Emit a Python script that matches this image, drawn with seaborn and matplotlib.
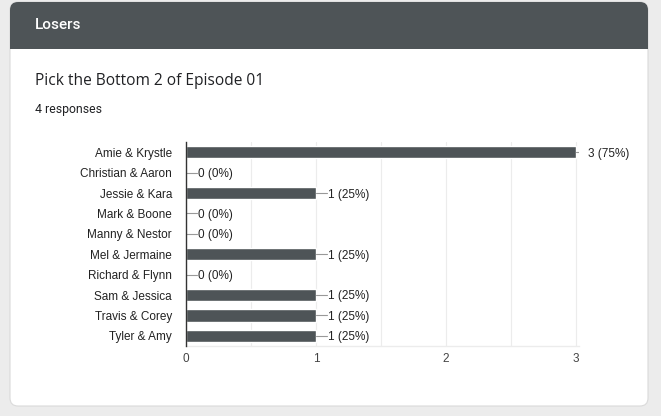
import matplotlib
matplotlib.use("Agg")
import matplotlib.pyplot as plt
import seaborn as sns
import pandas as pd
from matplotlib.patches import FancyBboxPatch, Rectangle
from matplotlib.transforms import IdentityTransform

pairs = ["Amie & Krystle", "Christian & Aaron", "Jessie & Kara", "Mark & Boone",
         "Manny & Nestor", "Mel & Jermaine", "Richard & Flynn", "Sam & Jessica",
         "Travis & Corey", "Tyler & Amy"]
votes = [3, 0, 1, 0, 0, 1, 0, 1, 1, 1]
total_responses = 4

df = pd.DataFrame({"pair": pairs, "votes": votes})

sns.set_theme(style="white")
plt.rcParams["font.family"] = ["Liberation Sans", "DejaVu Sans"]

W, H = 661, 416
fig = plt.figure(figsize=(W / 100, H / 100), dpi=100, facecolor="#ececec")

px = IdentityTransform()
# card + header (pixel coords, origin bottom-left)
dark = "#4e5457"
card = FancyBboxPatch((10, 10), 638, 404, boxstyle="round,pad=0,rounding_size=8",
                      transform=px, facecolor="white", edgecolor="#dadada", lw=0.8, zorder=-10)
header = FancyBboxPatch((10, 367), 638, 47, boxstyle="round,pad=0,rounding_size=8",
                        transform=px, facecolor=dark, edgecolor="none", zorder=-9)
header_sq = Rectangle((10, 367), 638, 12, transform=px, facecolor=dark,
                      edgecolor="none", zorder=-9)
for p in (card, header, header_sq):
    fig.patches.append(p)

fig.text(35, H - 25, "Losers", transform=px, color="white", fontsize=11,
         family=["Roboto", "DejaVu Sans"], fontweight="medium", va="center")
fig.text(35, H - 81, "Pick the Bottom 2 of Episode 01", transform=px, color="#202124",
         fontsize=11.2, family=["Open Sans", "DejaVu Sans"], va="center")
fig.text(35, H - 109, f"{total_responses} responses", transform=px, color="#202124",
         fontsize=8.8, family=["Roboto", "DejaVu Sans"], va="center")

# chart area
ax_w_px = 579 - 186
ax = fig.add_axes([186 / W, 1 - 346 / H, ax_w_px / W, 204 / H])
ax.set_facecolor("none")
sns.barplot(data=df, y="pair", x="votes", orient="h", color=dark,
            width=0.6, saturation=1, ax=ax, zorder=3)

xmax = max(votes)
ax.set_xlim(0, xmax + 3 / 130)
ax.set_ylim(len(pairs) - 0.5, -0.5)
ax.set_xticks(range(0, xmax + 1))
ax.set_xticks([i + 0.5 for i in range(xmax)], minor=True)
ax.grid(axis="x", which="both", color="#ececec", lw=0.8)
ax.set_axisbelow(True)
for s in ["top", "right"]:
    ax.spines[s].set_visible(False)
ax.spines["left"].set_color("#333333")
ax.spines["left"].set_linewidth(1)
ax.spines["left"].set_zorder(5)
ax.spines["bottom"].set_color("#ececec")
ax.spines["bottom"].set_linewidth(1)
ax.tick_params(axis="y", length=0, pad=10, labelsize=8.5, labelcolor="#222222")
ax.tick_params(axis="x", which="both", length=0, pad=5, labelsize=8.5, labelcolor="#444444")
ax.set_xlabel("")
ax.set_ylabel("")

# value labels with leader lines (lines clipped to the chart area)
x0, x1 = ax.get_xlim()
dx = 11 * (x1 - x0) / ax_w_px
for i, v in enumerate(votes):
    ax.plot([v, v + dx], [i, i], color="#999999", lw=0.8, clip_on=True, zorder=4)
    pct = round(100 * v / total_responses)
    ax.annotate(f"{v} ({pct}%)", xy=(v, i), xytext=(12, -1.5), textcoords="offset pixels",
                va="center", ha="left", fontsize=8.5, color="#222222",
                annotation_clip=False)

fig.savefig("out.png", dpi=100, facecolor=fig.get_facecolor())
